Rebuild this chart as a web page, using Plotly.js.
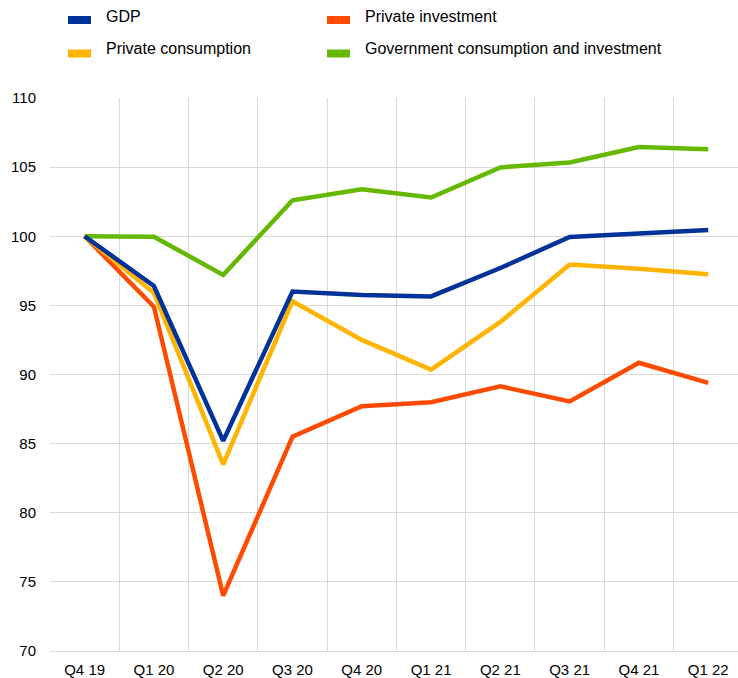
<!DOCTYPE html>
<html>
<head>
<meta charset="utf-8">
<script src="https://cdn.plot.ly/plotly-3.0.1.min.js"></script>
<style>
  body { margin: 0; background: #fff; }
  #chart { width: 738px; height: 678px; }
</style>
</head>
<body>
<div id="chart"></div>
<script>
// quarters on the x axis
const quarters = ["Q4 19", "Q1 20", "Q2 20", "Q3 20", "Q4 20", "Q1 21", "Q2 21", "Q3 21", "Q4 21", "Q1 22"];

// index, Q4 2019 = 100
const gdp = [100, 96.4, 85.2, 96.0, 95.75, 95.65, 97.7, 99.95, 100.2, 100.45];
const privateInvestment = [100, 94.9, 74.0, 85.5, 87.7, 88.0, 89.15, 88.05, 90.85, 89.4];
const privateConsumption = [100, 95.9, 83.5, 95.3, 92.5, 90.35, 93.8, 97.95, 97.65, 97.25];
const govConsInv = [100, 99.97, 97.2, 102.6, 103.4, 102.8, 104.98, 105.33, 106.45, 106.3];

const names = ["GDP", "Private investment", "Private consumption", "Government consumption and investment"];
const colors = ["#003299", "#ff4b00", "#ffb400", "#65b800"];
const series = [gdp, privateInvestment, privateConsumption, govConsInv];

let data = [];
for (let i = 0; i < series.length; i++) {
  data.push({
    x: quarters,
    y: series[i],
    name: names[i],
    type: "scatter",
    mode: "lines",
    line: { color: colors[i], width: 4.5 },
    showlegend: false
  });
}
// draw green and blue on top like the original
data = [data[3], data[1], data[2], data[0]];

// hand-made legend: two columns, flat swatches (pixel positions)
const legX = [68, 327, 68, 327];
const legY = [20, 20, 53.5, 53.5];
const textY = [17, 17, 49, 49];
const px = (x) => (x - 50) / 688;
const py = (y) => (651 - y) / 553;
let shapes = [];
let annotations = [];
for (let i = 0; i < names.length; i++) {
  shapes.push({
    type: "rect", xref: "paper", yref: "paper", layer: "above",
    x0: px(legX[i]), x1: px(legX[i] + 23),
    y0: py(legY[i] + 4), y1: py(legY[i] - 4),
    fillcolor: colors[i], line: { width: 0 }
  });
  annotations.push({
    xref: "paper", yref: "paper",
    x: px(legX[i] + 36), y: py(textY[i]),
    xanchor: "left", yanchor: "middle",
    text: names[i], showarrow: false,
    font: { family: "Liberation Sans, Arial, sans-serif", size: 16, color: "#000" }
  });
}

const tickFont = { family: "Liberation Sans, Arial, sans-serif", size: 15, color: "#000" };

const layout = {
  width: 738,
  height: 678,
  margin: { l: 50, r: 0, t: 98, b: 27 },
  paper_bgcolor: "#fff",
  plot_bgcolor: "#fff",
  font: { family: "Liberation Sans, Arial, sans-serif", size: 15, color: "#000" },
  xaxis: {
    type: "category",
    range: [-0.5, 9.43],
    tickson: "boundaries",
    ticks: "",
    tickfont: tickFont,
    showgrid: true,
    gridcolor: "#d9d9d9",
    gridwidth: 1,
    showline: true,
    linecolor: "#d9d9d9",
    linewidth: 1,
    ticklabelstandoff: 5,
    automargin: false,
    fixedrange: true
  },
  yaxis: {
    range: [70, 110],
    dtick: 5,
    tick0: 70,
    tickfont: tickFont,
    showgrid: true,
    gridcolor: "#d9d9d9",
    gridwidth: 1,
    zeroline: false,
    ticks: "",
    ticklabelstandoff: 13,
    automargin: false,
    fixedrange: true
  },
  shapes: shapes,
  annotations: annotations,
  showlegend: false
};

Plotly.newPlot("chart", data, layout, { displayModeBar: false, staticPlot: true });
</script>
</body>
</html>
